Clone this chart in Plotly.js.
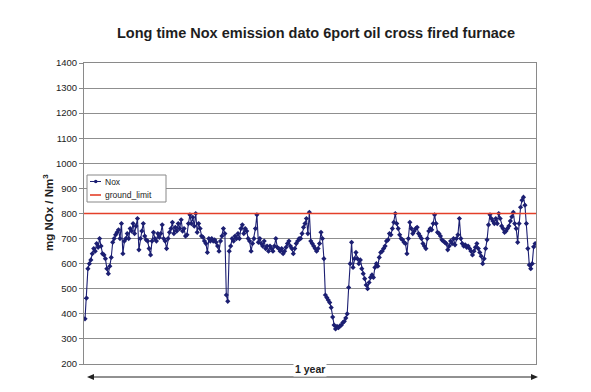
<!DOCTYPE html>
<html>
<head>
<meta charset="utf-8">
<script src="https://cdn.plot.ly/plotly-3.0.1.min.js"></script>
<style>html,body{margin:0;padding:0;background:#fff;}#chart{width:591px;height:392px;}</style>
</head>
<body>
<div id="chart"></div>
<script>
// NOx readings over one year (mg NOx / Nm3)
const noxValues = [
380,463,580,600,615,640,660,650,680,665,700,670,640,635,620,580,560,590,625,685,
700,715,725,735,700,760,640,690,700,720,700,740,730,760,720,750,780,655,700,730,
760,710,695,690,660,635,690,725,700,690,720,705,720,755,700,690,660,700,725,740,
765,720,745,730,760,740,775,730,740,710,715,760,795,760,785,750,800,725,760,740,
710,705,690,680,645,700,690,700,690,695,685,670,650,690,710,740,720,475,450,650,
670,700,690,710,700,720,700,740,755,720,740,730,700,690,650,680,700,740,795,685,
700,680,670,690,660,670,650,670,660,650,670,700,665,660,650,660,640,650,665,680,
690,670,660,640,660,680,690,700,700,720,745,760,780,720,805,690,680,670,660,650,
660,680,725,700,620,475,465,455,445,425,387,355,340,350,345,352,355,365,370,383,
400,505,600,685,585,620,645,620,600,615,580,560,540,515,500,525,545,555,545,585,
600,590,625,645,650,660,670,690,695,720,715,740,765,800,760,740,715,700,695,685,
680,640,700,765,740,720,730,740,745,720,710,700,680,670,660,700,730,740,735,760,
795,760,725,720,710,695,690,685,680,655,670,690,680,700,675,700,715,780,700,680,
670,675,665,670,660,650,635,650,665,680,660,645,630,600,620,660,695,755,795,780,
770,760,780,760,800,780,750,740,725,730,740,750,770,787,805,760,740,685,760,825,
853,865,833,760,660,595,580,600,667,680
];
const groundLimit = 800;
const seriesNames = ["Nox", "ground_limit"];
const yTicks = [200,300,400,500,600,700,800,900,1000,1100,1200,1300,1400];
const titleText = "Long time Nox emission dato 6port oil cross fired furnace";
const yTitle = "mg NOx / Nm<sup>3</sup>";
const spanLabel = "1 year";

const idx = noxValues.map((_, i) => i);
const n = noxValues.length;
const font = "Arial, 'Liberation Sans', sans-serif";
const navy = "#1c1f72", red = "#e4402a", ink = "#222";

// pixel helpers for plot area
const L = 84, R = 536, T = 63, B = 364;
const px = x => (x - L) / (R - L);
const py = y => (B - y) / (B - T);
const pt = (x, y) => px(x) + "," + py(y);

const traces = [
  {
    x: idx, y: noxValues, name: seriesNames[0], type: "scatter", mode: "lines+markers",
    line: {color: navy, width: 1.1},
    marker: {color: navy, size: 4, symbol: "diamond"}
  },
  {
    x: [-0.7, n - 0.4], y: [groundLimit, groundLimit], name: seriesNames[1],
    type: "scatter", mode: "lines",
    line: {color: red, width: 1.6}
  }
];

const arrowY = 377;
const shapes = [
  // compact legend drawn like the reference
  {type: "rect", xref: "paper", yref: "paper", x0: px(87), x1: px(166), y0: py(202), y1: py(175),
   line: {color: "#888", width: 1}, fillcolor: "#ffffff", layer: "above"},
  {type: "line", xref: "paper", yref: "paper", x0: px(90), x1: px(101), y0: py(181.5), y1: py(181.5),
   line: {color: navy, width: 1}, layer: "above"},
  {type: "circle", xref: "paper", yref: "paper", x0: px(94), x1: px(97.5), y0: py(183.2), y1: py(179.8),
   line: {color: navy, width: 0}, fillcolor: navy, layer: "above"},
  {type: "line", xref: "paper", yref: "paper", x0: px(90), x1: px(101), y0: py(195), y1: py(195),
   line: {color: red, width: 1.6}, layer: "above"},
  // "1 year" span arrow
  {type: "line", xref: "paper", yref: "paper", x0: px(90), x1: px(535), y0: py(arrowY), y1: py(arrowY),
   line: {color: ink, width: 1}},
  {type: "path", xref: "paper", yref: "paper",
   path: "M" + pt(87, arrowY) + " L" + pt(94, arrowY - 3) + " L" + pt(94, arrowY + 3) + " Z",
   fillcolor: ink, line: {color: ink, width: 0}},
  {type: "path", xref: "paper", yref: "paper",
   path: "M" + pt(538, arrowY) + " L" + pt(531, arrowY - 3) + " L" + pt(531, arrowY + 3) + " Z",
   fillcolor: ink, line: {color: ink, width: 0}}
];

const layout = {
  width: 591, height: 392,
  margin: {l: L, r: 591 - R, t: T, b: 392 - B, pad: 0},
  paper_bgcolor: "#ffffff", plot_bgcolor: "#ffffff",
  font: {family: font, color: ink},
  title: {text: "<b>" + titleText + "</b>", x: 316/591, xanchor: "center",
          y: 1 - 33/392, yanchor: "middle", font: {family: font, size: 14.5, color: "#1e1e1e"}},
  showlegend: false,
  xaxis: {range: [-0.7, n - 0.4], showgrid: false, zeroline: false,
          showticklabels: false, ticks: "", showline: true, mirror: true,
          linecolor: "#8a8a8a", linewidth: 1, fixedrange: true},
  yaxis: {range: [200, 1400], tickvals: yTicks, ticktext: yTicks.map(String),
          showgrid: true, gridcolor: "#8f8f8f", gridwidth: 1, zeroline: false,
          ticks: "outside", ticklen: 4, tickcolor: "#8a8a8a",
          showline: true, mirror: true, linecolor: "#8a8a8a", linewidth: 1,
          tickfont: {family: font, size: 9.5, color: ink}, fixedrange: true},
  shapes: shapes,
  annotations: [
    {xref: "paper", yref: "paper", x: (39 - L)/(R - L), y: py(213), text: "<b>" + yTitle + "</b>",
     textangle: -90, showarrow: false, font: {family: font, size: 11.5, color: ink}},
    {xref: "paper", yref: "paper", x: px(103), y: py(181.5), xanchor: "left", yanchor: "middle",
     text: seriesNames[0], showarrow: false, font: {family: font, size: 8.5, color: ink}},
    {xref: "paper", yref: "paper", x: px(103), y: py(195), xanchor: "left", yanchor: "middle",
     text: seriesNames[1], showarrow: false, font: {family: font, size: 8.5, color: ink}},
    {xref: "paper", yref: "paper", x: px(310), y: py(arrowY), text: "<b>" + spanLabel + "</b>",
     showarrow: false, bgcolor: "#ffffff", font: {family: font, size: 10.5, color: ink}}
  ]
};

Plotly.newPlot("chart", traces, layout, {displayModeBar: false, staticPlot: true});
</script>
</body>
</html>
